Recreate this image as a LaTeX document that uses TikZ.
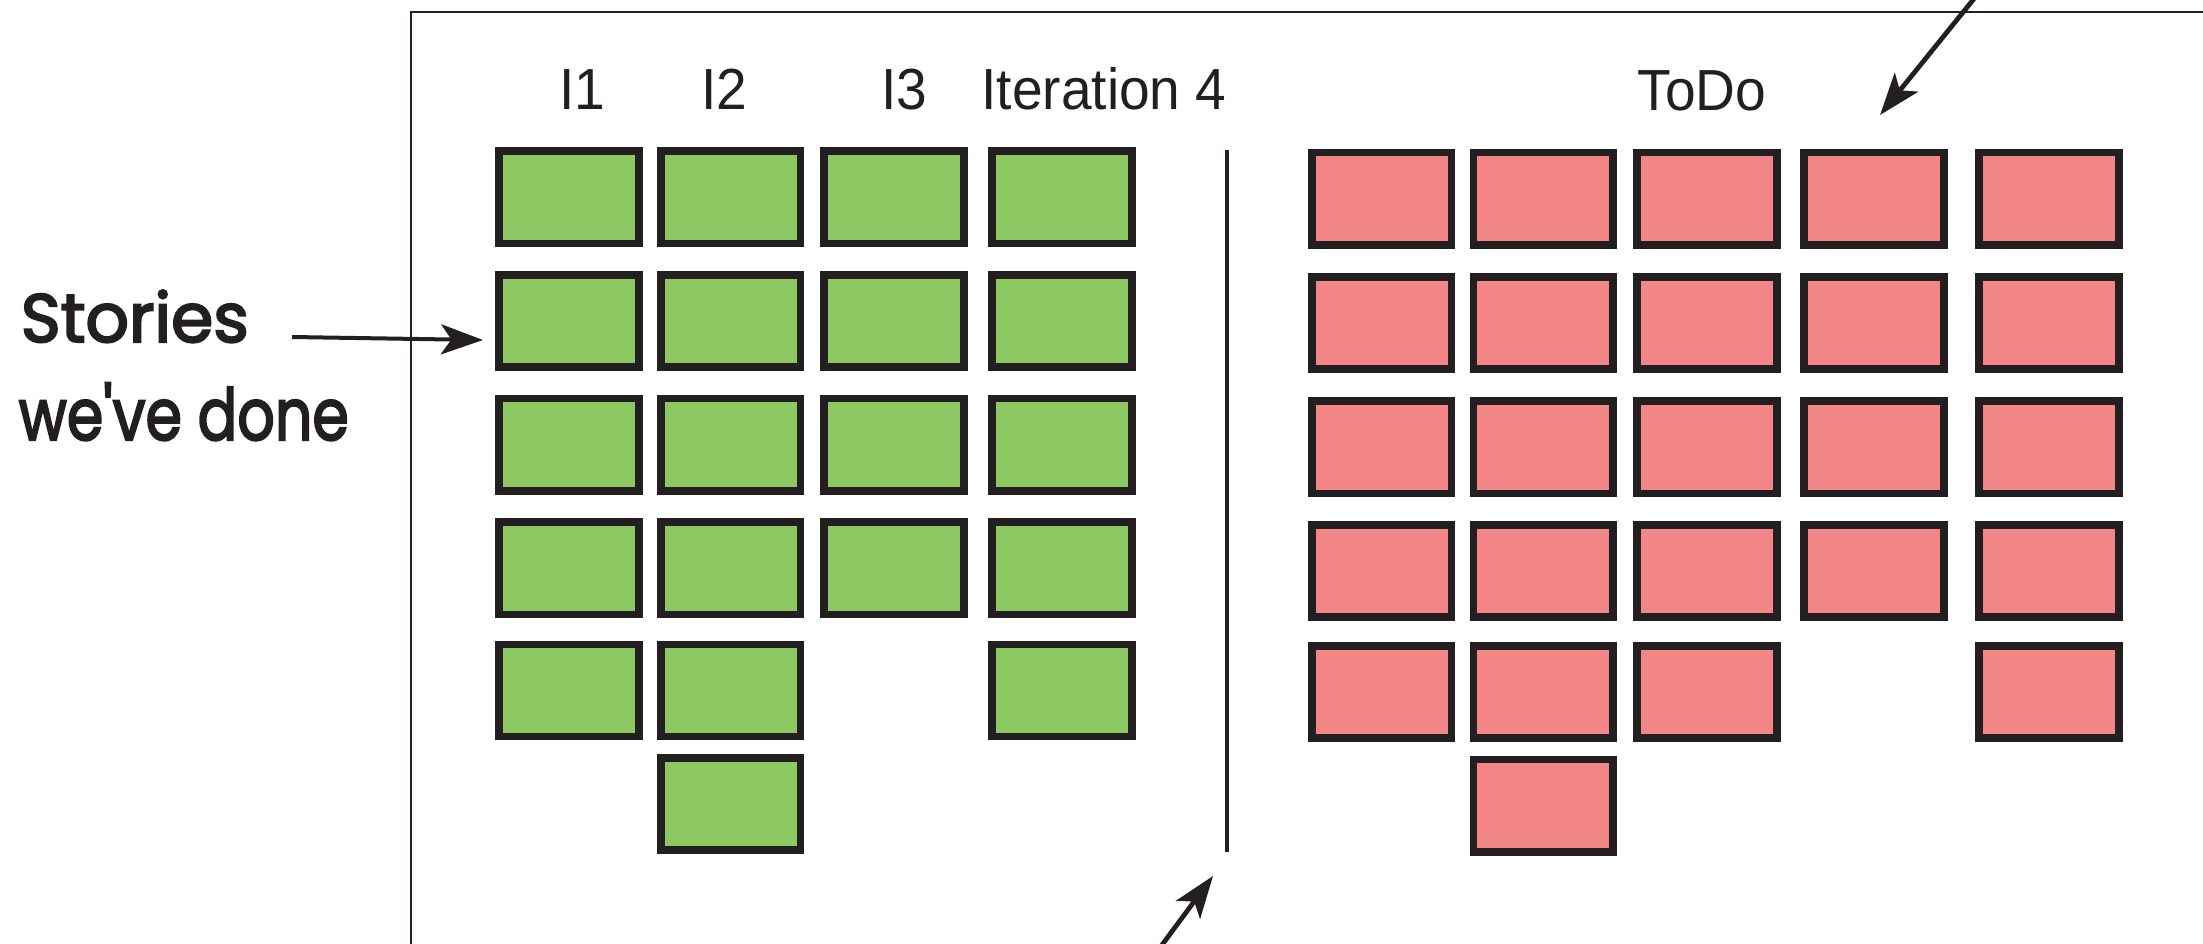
\documentclass[tikz,border=0pt]{standalone}
\usepackage{fontspec}
\setmainfont{Liberation Sans}
\newfontface\handfont{Poppins}[FakeBold=3]
\usetikzlibrary{arrows.meta}

\definecolor{ink}{HTML}{231F20}
\definecolor{donegreen}{HTML}{8DC962}
\definecolor{todopink}{HTML}{F28585}

\newcommand{\narrow}[1]{\scalebox{0.95}[1]{#1}}

\tikzset{
  card/.style={draw=ink, line width=1.875pt, inner sep=0pt, outer sep=0pt,
    minimum width=34.9pt, minimum height=23.1pt},
  done/.style={card, fill=donegreen},
  todo/.style={card, fill=todopink},
  heading/.style={anchor=base, inner sep=0pt, font=\fontsize{14.5pt}{16pt}\selectfont, text=ink},
  hand/.style={anchor=base west, inner sep=0pt, text=ink},
  pointer/.style={draw=ink, line width=1.2pt,
    -{Stealth[length=10.5pt, width=7.5pt, inset=2.6pt]}},
  wall/.style={draw=ink, line width=0.65pt},
  divider/.style={draw=ink, line width=1pt}
}

\begin{document}
\begin{tikzpicture}[x=0.25pt, y=-0.25pt]
  \useasboundingbox (0,0) rectangle (2203,943);

  % board outline (only its left and top edges are in view)
  \draw[wall] (411,960) -- (411,12) -- (2220,12);

  % column headings
  \node[heading] (h1) at (582,109) {\narrow{I1}};
  \node[heading] (h2) at (724,109) {\narrow{I2}};
  \node[heading] (h3) at (904,109) {\narrow{I3}};
  \node[heading] (h4) at (1104,109) {\narrow{Iteration 4}};
  \node[heading] (htodo) at (1702,110) {\narrow{ToDo}};

  % finished stories, one column per iteration
  \foreach \c/\x/\n in {1/569/5, 2/730.6/6, 3/894/4, 4/1062/5} {
    \foreach \r/\y in {1/197.4, 2/321, 3/444.7, 4/568.3, 5/690.5, 6/804} {
      \ifnum\r>\n\relax\else
        \node[done] (g\c\r) at (\x,\y) {};
      \fi
    }
  }

  % current-iteration divider
  \coordinate (divtop) at (1227,150);
  \coordinate (divbot) at (1227,852);
  \draw[divider] (divtop) -- (divbot);

  % stories still to do
  \foreach \c/\x/\n in {1/1381.8/5, 2/1543.4/6, 3/1707/5, 4/1874/4, 5/2049/5} {
    \foreach \r/\y in {1/198.8, 2/323, 3/447.3, 4/571, 5/692, 6/805.8} {
      \ifnum\r>\n\relax\else
        \node[todo] (p\c\r) at (\x,\y) {};
      \fi
    }
  }

  % handwritten note
  \node[hand] (stories) at (20,342)
    {\resizebox{57pt}{13pt}{\handfont Stories}};
  \node[hand] (weve) at (18,440)
    {\resizebox{82.5pt}{14.3pt}{\handfont we've done}};

  % pointers
  \coordinate (notetail) at (292,337);
  \coordinate (notetip) at (483,340);
  \draw[pointer, line width=1pt] (notetail) -- (notetip);

  \coordinate (todotail) at (1981,-10);
  \coordinate (todotip) at (1880,115);
  \draw[pointer] (todotail) -- (todotip);

  \coordinate (divtail) at (1156,953);
  \coordinate (divtip) at (1213,876);
  \draw[pointer] (divtail) -- (divtip);
\end{tikzpicture}
\end{document}
